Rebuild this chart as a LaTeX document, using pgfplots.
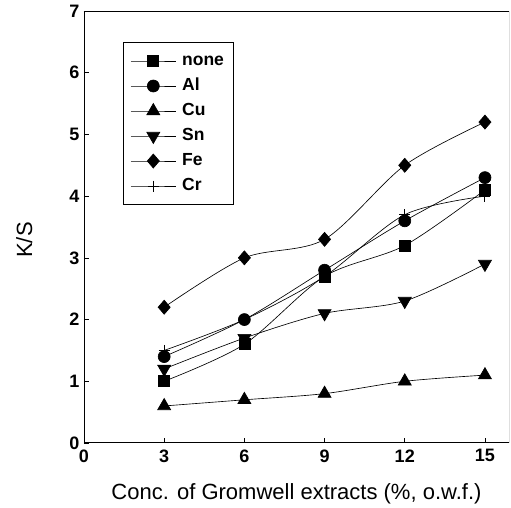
\documentclass[border=0pt]{standalone}
\usepackage{fontspec}
\setmainfont{Liberation Sans}
\usepackage{pgfplots}
\pgfplotsset{compat=1.18}

\begin{document}
\begin{tikzpicture}
\begin{axis}[
    scale only axis,
    width=425bp, height=432bp,
    xmin=0, xmax=15.9,
    ymin=0, ymax=7,
    xtick={0,3,6,9,12,15},
    ytick={0,1,2,3,4,5,6,7},
    axis x line*=bottom, axis y line*=left,
    tick align=inside,
    major tick length=5bp,
    tick style={black, line width=0.6pt},
    axis line style={line width=1pt},
    ticklabel style={font=\fontsize{18bp}{20bp}\selectfont\bfseries},
    xticklabel style={yshift=-3bp},
    yticklabel style={xshift=-1bp},
    /pgf/number format/assume math mode=true,
    xlabel={Conc. of Gromwell extracts (\%, o.w.f.)},
    ylabel={K/S},
    label style={font=\fontsize{22bp}{24bp}\selectfont},
    xlabel style={at={(axis description cs:0.5,0)}, anchor=base, yshift=-57bp},
    ylabel style={at={(axis description cs:-0.122,0.47)}, anchor=base},
    legend style={at={(axis description cs:0.092,0.928)}, anchor=north west,
        draw=black, line width=0.8pt, font=\fontsize{17.5bp}{19bp}\selectfont\bfseries,
        nodes={inner sep=2bp, text height=13bp, text depth=4bp},
        /tikz/every odd column/.append style={column sep=4bp},
        row sep=4bp, inner xsep=7bp, inner ysep=8bp},
    legend cell align=left,
    legend image code/.code={
        \draw[mark repeat=2,mark phase=2,sharp plot] plot coordinates {(0bp,0bp) (22.5bp,0bp) (45bp,0bp)};
    },
    every axis plot/.append style={black, line width=0.65pt, smooth, tension=0.5},
]
\addplot[mark=square*, mark size=5.5bp] coordinates {(3,1.0) (6,1.6) (9,2.7) (12,3.2) (15,4.1)};
\addlegendentry{none}
\addplot[mark=*, mark size=6bp] coordinates {(3,1.4) (6,2.0) (9,2.8) (12,3.6) (15,4.3)};
\addlegendentry{Al}
\addplot[mark=triangle*, mark size=7.5bp] coordinates {(3,0.6) (6,0.7) (9,0.8) (12,1.0) (15,1.1)};
\addlegendentry{Cu}
\addplot[mark=triangle*, mark size=7.5bp, mark options={rotate=180}] coordinates {(3,1.2) (6,1.7) (9,2.1) (12,2.3) (15,2.9)};
\addlegendentry{Sn}
\addplot[mark=diamond*, mark size=7bp, mark options={xscale=1.15}] coordinates {(3,2.2) (6,3.0) (9,3.3) (12,4.5) (15,5.2)};
\addlegendentry{Fe}
\addplot[mark=+, mark size=5.5bp, mark options={line width=1pt}] coordinates {(3,1.5) (6,2.0) (9,2.7) (12,3.7) (15,4.0)};
\addlegendentry{Cr}
\draw[line width=0.8pt] (rel axis cs:0,1) -- (rel axis cs:1,1) -- (rel axis cs:1,0);
\end{axis}
\path (current axis.south west) ++(-84bp,-63bp) coordinate (bl);
\path (current axis.north east) ++(2bp,11bp) coordinate (tr);
\path (bl) rectangle (tr);
\end{tikzpicture}
\end{document}
